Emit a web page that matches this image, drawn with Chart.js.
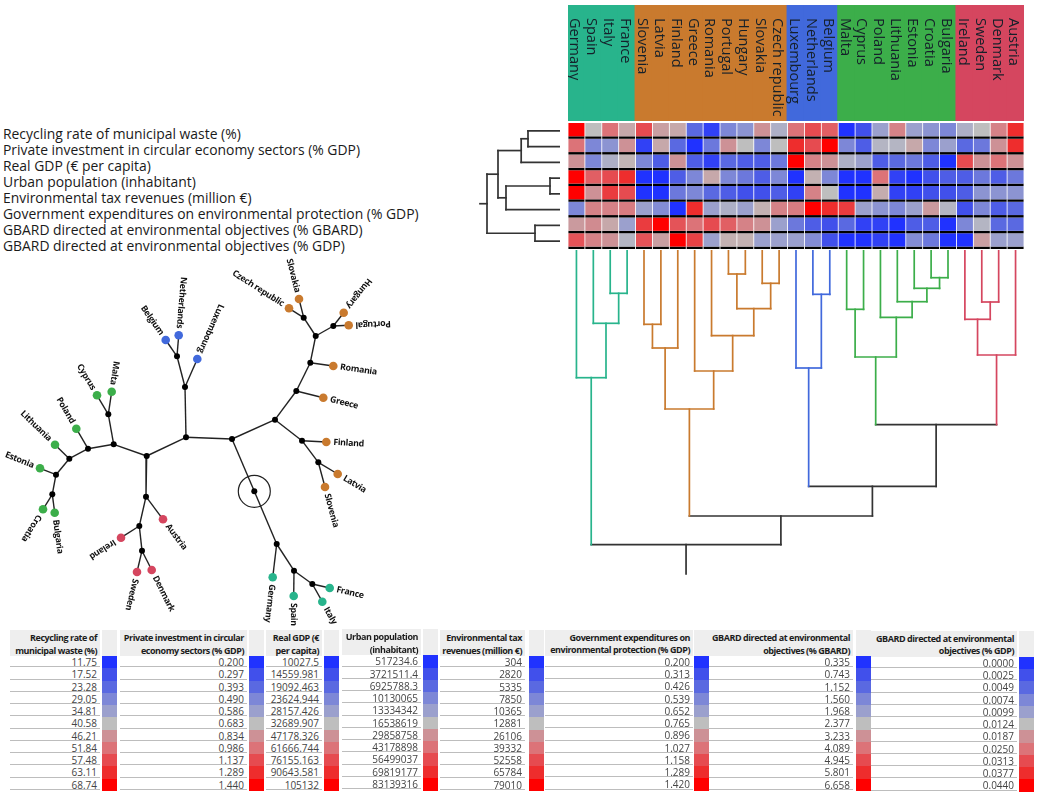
<!DOCTYPE html>
<html><head><meta charset="utf-8">
<script src="https://cdn.jsdelivr.net/npm/chart.js@4"></script>
<style>
html,body{margin:0;padding:0;background:#fff;width:1038px;height:797px;overflow:hidden;font-family:"Open Sans",sans-serif}
.box{position:absolute}
.box canvas{display:block}
.rowlab{position:absolute;left:3px;font-size:13.9px;line-height:16px;color:#1a1a1a;white-space:nowrap}
.hd{position:absolute;background:#eeeeee;font-weight:700;font-size:9px;letter-spacing:-0.45px;line-height:12.5px;color:#1c1c1c;text-align:right;box-sizing:border-box;padding:2px 3px 0 0;white-space:nowrap}
.hs{position:absolute;background:#eeeeee}
.vl{position:absolute;font-size:10px;color:#444;text-align:right;box-sizing:border-box;padding-right:3px;white-space:nowrap;background:#fff;border-bottom:1px solid #bdbdbd}
.sw{position:absolute}
</style></head><body>
<script>
// ---- categories
const countries = ["Germany","Spain","Italy","France","Slovenia","Latvia","Finland","Greece","Romania","Portugal","Hungary","Slovakia","Czech republic","Luxembourg","Netherlands","Belgium","Malta","Cyprus","Poland","Lithuania","Estonia","Croatia","Bulgaria","Ireland","Sweden","Denmark","Austria"];
const clusterOf = ["t","t","t","t","o","o","o","o","o","o","o","o","o","b","b","b","g","g","g","g","g","g","g","r","r","r","r"];
const indicators = ["Recycling rate of municipal waste (%)","Private investment in circular economy sectors (% GDP)","Real GDP (€ per capita)","Urban population (inhabitant)","Environmental tax revenues (million €)","Government expenditures on environmental protection (% GDP)","GBARD directed at environmental objectives (% GBARD)","GBARD directed at environmental objectives (% GDP)"];
const clusterColors = {t:"#28B48C",o:"#C97A2E",b:"#4169DC",g:"#3CAE4A",r:"#D5465F",k:"#333333"};
const levelPalette = ["#2032FF","#4150EB","#5A69E1","#7D87D7","#9BA0CD","#BEBEBE","#CD9196","#DC7378","#E64B50","#EE2D2D","#FF0000"];

// ---- heat map, colour level of each country (-5 low ... +5 high), one array per indicator
const heatRecycling  = [5,0,2,0.5,3,0.7,0.5,-3,-4.5,-2,-1.5,1,-0.5,2,3,2.5,-5,-4,-1,1.5,-1,-1.5,-2,-0.5,0,1.5,4];
const heatPrivate    = [2,-2,-1.5,1,-4.5,0.5,-3,-5,-2.5,1,0,-2,0,4,3,5,-2,-3.5,-0.3,-0.3,0.5,-2,-1,-3,-2.5,1,4];
const heatGdp        = [1,-2,-0.5,0.2,-2,-3.5,1,-3.5,-4.5,-3,-3.5,-3.5,-2.5,5,1.5,1,-0.5,-1,-3.5,-3,-2.5,-3.5,-5,3,1,2,1];
const heatUrban      = [5,2.5,3,4,-5,-5,-3.5,-2,0.5,-2,-2.5,-3.5,-2,-5,0.3,-2,-5,-5,2,-4.5,-5,-4,-3.5,-3.5,-2.5,-3.5,-2.5];
const heatTax        = [5,1,3.5,3,-5,-5,-2.5,-2,-3,-3.5,-4,-4,-3.5,-4.5,1.5,0,-5,-5,0.4,-4.5,-4.5,-4,-4,-3.5,-1.5,-1.5,-1.5];
const heatGov        = [-2,1.5,1.5,1.7,-1,-1.8,-5,4,-1,-0.5,-1,0.3,1.5,1.7,5,4,3.5,-1,-1.5,-2,-1,0.8,-0.3,-4,-2,-3.5,-3];
const heatGbard      = [0.8,1.2,0.5,-1,3.5,5,2.8,2,3,2.5,1.5,1,-1,-2.5,-3.5,-4,-3,-4.5,-4.5,-5,-3.5,-3.5,-5,-2,-0.3,-3,-3];
const heatGbardGdp   = [2.8,1.5,1,-0.3,2.8,0.7,5,3.3,-1,0.3,0.3,-1,-1,-1,-1.8,-4,-5,-5,-4.5,-5,-1.8,-2.5,-5,-5,0.7,-1,-1];
const heatRows = [heatRecycling,heatPrivate,heatGdp,heatUrban,heatTax,heatGov,heatGbard,heatGbardGdp];

// ---- country dendrogram merges: [child, child, height]; new nodes are numbered from 27
const countryMerges = [[2,3,43.3],[1,27,73.3],[0,28,127.7],[4,5,74.3],[30,6,98],[9,10,24],[11,12,33.3],[32,33,58.7],[8,34,85.7],[7,35,121],[31,36,159],[14,15,44.3],[13,38,118],[16,17,59.3],[21,22,27.7],[20,41,38.3],[19,42,51.7],[18,43,67.3],[40,44,107],[24,25,52],[23,46,69.3],[47,26,105],[45,48,174.7],[39,49,236.3],[37,50,266],[29,51,294.7]];
const countryRootHeight = 324;
// ---- indicator dendrogram merges; new nodes are numbered from 8
const indicatorMerges = [[0,1,32],[8,2,38.8],[3,4,10],[10,5,54],[9,11,62],[6,7,25],[12,13,73]];
const indicatorRootHeight = 80;

// ---- unrooted tree
const treeNames   = ["R","E","G","B","F","A","n1","n2","Belgium","Netherlands","Luxembourg","C","D","n3","Cyprus","Malta","n4","Poland","n5","Lithuania","n6","Estonia","n7","Croatia","Bulgaria","Austria","n8","Ireland","n9","Sweden","Denmark","Germany","H","Spain","I","France","Italy","J","Greece","K","Romania","L","M","Slovakia","Czech republic","N","Hungary","Portugal","O","Finland","P","Latvia","Slovenia"];
const treeParents = ["","R","R","E","E","B","B","n1","n2" ,"n2","n1","A","A","C","n3","n3","C","n4","n4","n5","n5","n6","n6","n7","n7","D","D","n8","n8","n9","n9","G","G","H","H","I","I","F","J","J","K","K","L","M","M","L","N","N","F","O","O","P","P"];
const treeX = [254.3,232,276.7,186,275,146.7,185,177,165.7,178.7,197.3,113.7,146,108.3,97,111.7,88,76.3,69.3,55,56,40,52.3,43,54.7,163,139.3,121,142,137,151.7,272.7,294,293.7,312.3,329.7,322.3,296.3,323.3,310.3,333.3,315.7,303.7,299,289,333.3,343.7,348.7,302,326.3,318.3,337.7,325];
const treeY = [491.3,439,544,437.3,419.7,456,387,356.3,340,335.3,359,444.3,496.7,414.3,395.3,391.7,448.7,428.7,458.7,444.7,474.7,468.3,494.3,509.3,512.7,519.3,526,537.7,550.7,572,570,577.3,570.7,596,584,588,601.7,391,397.7,362.7,366,336,317.7,299,308.3,326,312.7,325.3,440.7,442,462.3,474,487];

// ---- legend tables
const tableHeads = [["Recycling rate of","municipal waste (%)"],["Private investment in circular","economy sectors (% GDP)"],["Real GDP (€","per capita)"],["Urban population","(inhabitant)"],["Environmental tax","revenues (million €)"],["Government expenditures on","environmental protection (% GDP)"],["GBARD directed at environmental","objectives (% GBARD)"],["GBARD directed at environmental","objectives (% GDP)"]];
const legendRecycling = ["11.75","17.52","23.28","29.05","34.81","40.58","46.21","51.84","57.48","63.11","68.74"];
const legendPrivate   = ["0.200","0.297","0.393","0.490","0.586","0.683","0.834","0.986","1.137","1.289","1.440"];
const legendGdp       = ["10027.5","14559.981","19092.463","23624.944","28157.426","32689.907","47178.326","61666.744","76155.163","90643.581","105132"];
const legendUrban     = ["517234.6","3721511.4","6925788.3","10130065","13334342","16538619","29858758","43178898","56499037","69819177","83139316"];
const legendTax       = ["304","2820","5335","7850","10365","12881","26106","39332","52558","65784","79010"];
const legendGov       = ["0.200","0.313","0.426","0.539","0.652","0.765","0.896","1.027","1.158","1.289","1.420"];
const legendGbard     = ["0.335","0.743","1.152","1.560","1.968","2.377","3.233","4.089","4.945","5.801","6.658"];
const legendGbardGdp  = ["0.0000","0.0025","0.0049","0.0074","0.0099","0.0124","0.0187","0.0250","0.0313","0.0377","0.0440"];
const legendColumns = [legendRecycling,legendPrivate,legendGdp,legendUrban,legendTax,legendGov,legendGbard,legendGbardGdp];

// ---- layout
const tableLeft  = [10,120,266,342,440,545,709,871];
const tableRight = [100,247,322,421,525,693,853,1017];
const swatchLeft = [102,249,324,423,529,694,856,1019];
const tableShift = [0,0,0,-0.7,0,-0.3,0,0.7];

Chart.defaults.animation = false;
Chart.defaults.responsive = false;
Chart.defaults.font.family = '"Open Sans",sans-serif';

function mount(left,top,w,h){
  const d=document.createElement('div');d.className='box';
  d.style.cssText=`left:${left}px;top:${top}px;width:${w}px;height:${h}px`;
  const c=document.createElement('canvas');c.width=w;c.height=h;c.style.width=w+'px';c.style.height=h+'px';
  d.appendChild(c);document.body.appendChild(d);return c;
}
const baseOpts=(scales)=>({
  responsive:false,animation:false,maintainAspectRatio:false,
  layout:{padding:0,autoPadding:false},plugins:{legend:{display:false},tooltip:{enabled:false}},scales});

function levelColor(v){
  const t=v+5,i=Math.min(9,Math.floor(t)),f=t-i;
  const p=s=>[1,3,5].map(k=>parseInt(s.substr(k,2),16));
  const a=p(levelPalette[i]),b=p(levelPalette[i+1]);
  return `rgb(${a.map((c,k)=>Math.round(c+(b[k]-c)*f)).join(',')})`;
}

// header band with country names
new Chart(mount(568,5,456,116),{
  type:'bar',
  data:{labels:countries,datasets:[{data:countries.map(()=>1),backgroundColor:clusterOf.map(c=>clusterColors[c]),barPercentage:1,categoryPercentage:1,borderWidth:0,inflateAmount:1}]},
  options:baseOpts({x:{display:false},y:{display:false,min:0,max:1}}),
  plugins:[{id:'names',afterDatasetsDraw(ch){
    const c=ch.ctx,sx=ch.scales.x;
    c.save();c.font='14.5px "Open Sans"';c.fillStyle='#15202a';c.textBaseline='middle';c.textAlign='left';
    countries.forEach((n,i)=>{c.save();c.translate(sx.getPixelForValue(i)-2,13);c.rotate(Math.PI/2);c.fillText(n,0,0);c.restore();});
    c.restore();
  }}]
});

// heat map
const sepShare=0.155;
const heatSets=[];
heatRows.forEach((row,r)=>{
  heatSets.push({data:row.map(()=>[r,r+1-sepShare]),backgroundColor:row.map(levelColor),grouped:false,barPercentage:0.95,categoryPercentage:1,borderWidth:0});
  heatSets.push({data:row.map(()=>[r+1-sepShare,r+1]),backgroundColor:'#000',grouped:false,barPercentage:0.95,categoryPercentage:1,borderWidth:0});
});
new Chart(mount(568,123,456,126),{
  type:'bar',data:{labels:countries,datasets:heatSets},
  options:baseOpts({x:{display:false},y:{display:false,min:0,max:8,reverse:true}})
});

// generic dendrogram → segments
function dendroSegments(merges,n,rootH,colorOfLeaf,horizontal,base){
  const pos=[],ht=[],col=[];
  for(let i=0;i<n;i++){pos[i]=i+base;ht[i]=0;col[i]=colorOfLeaf(i);}
  const sets=[];
  const seg=(a,b,color)=>sets.push({data:[a,b],borderColor:color,borderWidth:1.7,showLine:true,pointRadius:0,clip:false,borderCapStyle:'square'});
  const P=(p,h)=>horizontal?{x:h,y:p}:{x:p,y:h};
  merges.forEach((m,k)=>{
    const id=n+k,[l,r,h]=m;
    pos[id]=(pos[l]+pos[r])/2;ht[id]=h;
    col[id]=(col[l]===col[r])?col[l]:clusterColors.k;
    seg(P(pos[l],ht[l]),P(pos[l],h),col[l]);
    seg(P(pos[r],ht[r]),P(pos[r],h),col[r]);
    seg(P(pos[l],h),P(pos[r],h),col[id]);
  });
  const last=n+merges.length-1;
  seg(P(pos[last],ht[last]),P(pos[last],rootH),col[last]);
  return sets;
}

// country dendrogram
new Chart(mount(568,250,456,326),{
  type:'scatter',
  data:{datasets:dendroSegments(countryMerges,27,countryRootHeight,i=>clusterColors[clusterOf[i]],false,0)},
  options:baseOpts({x:{display:false,type:'linear',min:-0.5,max:26.5},y:{display:false,type:'linear',min:0,max:326,reverse:true}})
});

// indicator dendrogram
new Chart(mount(478,123,82,126),{
  type:'scatter',
  data:{datasets:dendroSegments(indicatorMerges,8,indicatorRootHeight,()=>clusterColors.k,true,0.5)},
  options:baseOpts({x:{display:false,type:'linear',min:0,max:82,reverse:true},y:{display:false,type:'linear',min:0,max:8,reverse:true}})
});

// indicator labels
indicators.forEach((t,i)=>{
  const d=document.createElement('div');d.className='rowlab';d.textContent=t;
  d.style.top=(125.5+i*16)+'px';document.body.appendChild(d);
});

// unrooted tree
const idx=Object.fromEntries(treeNames.map((n,i)=>[n,i]));
const treeSets=[];
treeNames.forEach((n,i)=>{
  if(!treeParents[i])return;
  const p=idx[treeParents[i]];
  treeSets.push({order:2,data:[{x:treeX[p],y:treeY[p]},{x:treeX[i],y:treeY[i]}],borderColor:'#222',borderWidth:1.4,showLine:true,pointRadius:0,clip:false});
});
const isLeaf=n=>countries.includes(n);
treeSets.push({order:1,data:treeNames.map((n,i)=>({x:treeX[i],y:treeY[i]})),showLine:false,clip:false,
  pointRadius:treeNames.map(n=>isLeaf(n)?4.3:3),
  pointBackgroundColor:treeNames.map(n=>isLeaf(n)?clusterColors[clusterOf[countries.indexOf(n)]]:'#000'),
  pointBorderWidth:0});
treeSets.push({order:1,data:[{x:treeX[0],y:treeY[0]}],showLine:false,pointRadius:16,pointBackgroundColor:'rgba(0,0,0,0)',pointBorderColor:'#222',pointBorderWidth:1.2,clip:false});
new Chart(mount(0,250,400,380),{
  type:'scatter',data:{datasets:treeSets},
  options:baseOpts({x:{display:false,type:'linear',min:0,max:400},y:{display:false,type:'linear',min:250,max:630,reverse:true}}),
  plugins:[{id:'leafNames',afterDatasetsDraw(ch){
    const c=ch.ctx,sx=ch.scales.x,sy=ch.scales.y;
    c.save();c.font='bold 8.8px "Open Sans"';c.letterSpacing='-0.3px';c.fillStyle='#111';c.textBaseline='middle';
    treeNames.forEach((n,i)=>{
      if(!isLeaf(n))return;
      const p=idx[treeParents[i]];
      const x=sx.getPixelForValue(treeX[i]),y=sy.getPixelForValue(treeY[i]);
      const dx=x-sx.getPixelForValue(treeX[p]),dy=y-sy.getPixelForValue(treeY[p]);
      const a=Math.atan2(dy,dx),off=7;
      c.save();c.translate(x+Math.cos(a)*off,y+Math.sin(a)*off);
      if(dy<0){c.rotate(a+Math.PI);c.textAlign='right';}else{c.rotate(a);c.textAlign='left';}
      c.fillText(n,0,0);c.restore();
    });
    c.restore();
  }}]
});

// legend tables
function el(cls,l,t,w,h,txt,bg){
  const d=document.createElement('div');d.className=cls;
  d.style.cssText=`left:${l}px;top:${t}px;width:${w}px;height:${h}px;`+(bg?`background:${bg};`:'')+(cls==='vl'?`line-height:${h+1}px;`:'');
  if(txt)d.innerHTML=txt;document.body.appendChild(d);
}
const rowPitch=12.27;
legendColumns.forEach((vals,k)=>{
  const L=tableLeft[k],R=tableRight[k],S=swatchLeft[k],top=630+tableShift[k];
  el('hd',L,top,R-L,26,tableHeads[k].join('<br>'));
  el('hs',S,top,15,26);
  vals.forEach((v,i)=>{
    const y=top+26+i*rowPitch;
    el('vl',L,y,R-L,rowPitch-1,v);
    el('sw',S,y,15,rowPitch+0.3,'',levelPalette[i]);
  });
});
</script>
</body></html>
